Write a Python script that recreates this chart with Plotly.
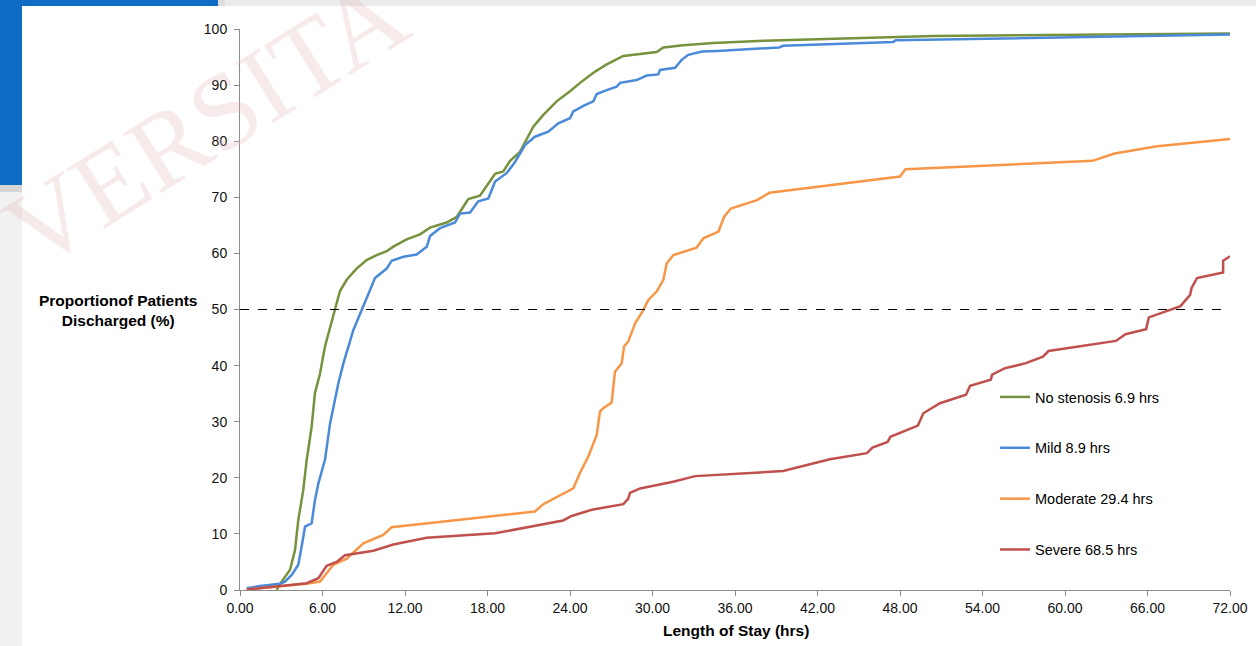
import plotly.graph_objects as go

# ---------------- data ----------------
no_sten_hrs = [2.67, 3.03, 3.64, 4.0, 4.24, 4.6, 4.85, 5.21, 5.45, 5.82, 6.18, 6.55, 6.91, 7.27,
               7.76, 8.48, 9.21, 9.94, 10.67, 11.15, 12.12, 13.09, 13.82, 15.03, 15.76, 16.6,
               17.45, 18.06, 18.55, 19.15, 19.64, 20.36, 20.97, 21.33, 22.06, 23.03, 24.0, 24.73,
               25.7, 26.67, 27.88, 30.3, 30.79, 32.24, 34.4, 38.1, 50.4, 72.0]
no_sten_pct = [0.0, 1.5, 3.6, 7.1, 12.5, 17.8, 23.2, 29.1, 35.1, 38.6, 43.4, 46.9, 49.9, 53.3,
               55.3, 57.3, 58.8, 59.7, 60.4, 61.2, 62.5, 63.4, 64.6, 65.5, 66.5, 69.7,
               70.3, 72.5, 74.2, 74.6, 76.5, 78.1, 80.8, 82.6, 84.7, 87.1, 88.9, 90.4,
               92.2, 93.7, 95.2, 95.9, 96.7, 97.1, 97.5, 97.9, 98.75, 99.2]

mild_hrs = [0.49, 1.45, 2.9, 3.27, 3.76, 4.24, 4.48, 4.73, 5.21, 5.45, 5.7, 6.18, 6.55, 6.91,
            7.15, 7.52, 7.88, 8.24, 8.85, 9.21, 9.82, 10.67, 11.03, 11.88, 12.85, 13.58, 13.82,
            14.55, 15.64, 16.0, 16.73, 17.33, 18.06, 18.55, 19.39, 20.0, 20.73, 21.45, 22.42,
            23.15, 24.0, 24.24, 24.97, 25.7, 25.94, 26.67, 27.39, 27.64, 28.85, 29.58, 30.42,
            30.55, 31.64, 32.12, 32.6, 33.6, 34.7, 39.2, 39.5, 47.5, 47.7, 72.0]
mild_pct = [0.3, 0.7, 1.1, 1.5, 2.7, 4.5, 7.7, 11.3, 11.9, 16.0, 19.0, 23.2, 29.7, 33.9,
            36.8, 40.4, 43.4, 46.3, 49.9, 52.0, 55.6, 57.3, 58.7, 59.4, 59.8, 61.2, 63.1,
            64.5, 65.5, 67.1, 67.3, 69.3, 69.8, 72.8, 74.3, 76.3, 79.3, 80.8, 81.7,
            83.2, 84.1, 85.3, 86.3, 87.1, 88.4, 89.1, 89.7, 90.4, 90.9, 91.7, 91.9,
            92.7, 93.1, 94.5, 95.4, 96.0, 96.1, 96.7, 97.0, 97.7, 98.0, 99.0]

moderate_hrs = [0.49, 4.85, 5.82, 6.79, 7.76, 8.97, 10.42, 11.03, 21.45, 22.06, 24.24, 24.73,
                25.33, 25.94, 26.18, 26.42, 27.03, 27.27, 27.76, 27.93, 28.24, 28.73, 29.33,
                29.7, 30.3, 30.79, 31.03, 31.52, 33.2, 33.7, 34.8, 35.2, 35.7, 37.6, 38.5,
                48.0, 48.4, 62.0, 63.6, 66.7, 72.0]
moderate_pct = [0.1, 1.1, 1.5, 4.5, 5.6, 8.3, 9.8, 11.2, 14.0, 15.3, 18.1, 20.9,
                23.8, 27.6, 31.8, 32.4, 33.4, 38.9, 40.4, 43.4, 44.3, 47.5, 49.9,
                51.7, 53.2, 55.3, 58.2, 59.7, 61.0, 62.7, 63.9, 66.5, 68.0, 69.5, 70.8,
                73.7, 75.0, 76.5, 77.8, 79.1, 80.4]

severe_hrs = [0.49, 4.85, 5.7, 6.3, 7.03, 7.64, 9.7, 11.15, 13.58, 18.55, 23.5, 24.12, 25.58,
              27.88, 28.24, 28.36, 29.1, 31.5, 33.1, 39.5, 42.9, 45.6, 46.0, 47.1, 47.3, 49.3,
              49.7, 50.9, 52.8, 53.1, 54.6, 54.7, 55.6, 57.1, 58.4, 58.8, 63.7, 64.4, 65.9,
              66.1, 68.4, 69.1, 69.2, 69.6, 71.5, 71.5, 72.0]
severe_pct = [0.1, 1.2, 2.1, 4.3, 5.0, 6.2, 7.0, 8.1, 9.3, 10.1, 12.4, 13.2, 14.3,
              15.3, 16.3, 17.3, 18.1, 19.3, 20.3, 21.2, 23.3, 24.4, 25.4, 26.4, 27.3, 29.3,
              31.5, 33.3, 34.8, 36.4, 37.5, 38.4, 39.5, 40.4, 41.6, 42.6, 44.4, 45.6, 46.5,
              48.6, 50.6, 52.6, 53.8, 55.6, 56.6, 58.7, 59.5]

series_names = ["No stenosis 6.9 hrs", "Mild 8.9 hrs", "Moderate 29.4 hrs", "Severe 68.5 hrs"]
series_colors = ["#76923c", "#4a8ad8", "#f79646", "#c0504d"]
series_x = [no_sten_hrs, mild_hrs, moderate_hrs, severe_hrs]
series_y = [no_sten_pct, mild_pct, moderate_pct, severe_pct]

x_ticks = [0, 6, 12, 18, 24, 30, 36, 42, 48, 54, 60, 66, 72]
y_ticks = [0, 10, 20, 30, 40, 50, 60, 70, 80, 90, 100]
median_line = 50

# ---------------- figure ----------------
W, H = 1256, 646
L, R, T, B = 240, 26, 29, 56
PW, PH = W - L - R, H - T - B


def fx(px):
    return (px - L) / PW


def fy(py):
    return (H - B - py) / PH


fig = go.Figure()
for name, color, xs, ys in zip(series_names, series_colors, series_x, series_y):
    fig.add_trace(go.Scatter(x=xs, y=ys, mode="lines", name=name, legendgroup=name,
                             line=dict(color=color, width=2.5)))

font_family = "Liberation Sans, Arial, sans-serif"

shapes = [
    # page decoration around the chart
    dict(type="rect", xref="paper", yref="paper", x0=fx(0), x1=fx(W), y0=fy(0), y1=fy(6),
         fillcolor="#ebebeb", line_width=0, layer="below"),
    dict(type="rect", xref="paper", yref="paper", x0=fx(218), x1=fx(225), y0=fy(0), y1=fy(6),
         fillcolor="#dcdcdc", line_width=0, layer="below"),
    dict(type="rect", xref="paper", yref="paper", x0=fx(0), x1=fx(218), y0=fy(0), y1=fy(6),
         fillcolor="#0f6bc4", line_width=0, layer="below"),
    dict(type="rect", xref="paper", yref="paper", x0=fx(0), x1=fx(22), y0=fy(0), y1=fy(185),
         fillcolor="#0f6bc4", line_width=0, layer="below"),
    dict(type="rect", xref="paper", yref="paper", x0=fx(0), x1=fx(22), y0=fy(185), y1=fy(H),
         fillcolor="#f1f1f1", line_width=0, layer="below"),
    dict(type="rect", xref="paper", yref="paper", x0=fx(0), x1=fx(22), y0=fy(185), y1=fy(192),
         fillcolor="#d6d6d6", line_width=0, layer="below"),
    # median (50%) reference line
    dict(type="line", xref="paper", yref="y", x0=0, x1=1, y0=median_line, y1=median_line,
         line=dict(color="black", width=1.2, dash="dash")),
]

annotations = [
    dict(text="VERSITA", xref="paper", yref="paper", x=fx(205), y=fy(122),
         xanchor="center", yanchor="middle",
         showarrow=False, textangle=-32,
         font=dict(family="Liberation Serif, Times New Roman, serif", size=108,
                   color="rgba(225,180,180,0.28)")),
    dict(text="<b>Proportionof Patients<br>Discharged (%)</b>", xref="paper", yref="paper",
         x=fx(118), y=fy(310), xanchor="center", yanchor="middle",
         showarrow=False, align="center",
         font=dict(family=font_family, size=15.5, color="black")),
    dict(text="<b>Length of Stay (hrs)</b>", xref="paper", yref="paper",
         x=fx(736), y=fy(630), xanchor="center", yanchor="middle", showarrow=False,
         font=dict(family=font_family, size=15.5, color="black")),
]

fig.update_layout(
    width=W, height=H,
    margin=dict(l=L, r=R, t=T, b=B, pad=0, autoexpand=False),
    paper_bgcolor="white", plot_bgcolor="white",
    font=dict(family=font_family, size=14, color="#111111"),
    shapes=shapes, annotations=annotations,
    showlegend=True,
    legend=dict(x=fx(995), y=fy(381), xanchor="left", yanchor="top",
                tracegroupgap=29, bgcolor="rgba(0,0,0,0)",
                font=dict(family=font_family, size=14.5, color="black")),
    xaxis=dict(range=[0, 72], tickvals=x_ticks, ticktext=[f"{v:.2f}" for v in x_ticks],
               showgrid=False, zeroline=False, showline=True, linecolor="#8c8c8c",
               linewidth=1, ticks="outside", ticklen=5, tickcolor="#8c8c8c",
               tickfont=dict(size=14, color="#111111")),
    yaxis=dict(range=[0, 100], tickvals=y_ticks, showgrid=False, zeroline=False,
               showline=True, linecolor="#8c8c8c", linewidth=1, ticks="outside", ticklen=5,
               tickcolor="#8c8c8c", tickfont=dict(size=14, color="#111111"),
               ticklabelstandoff=4),
)

fig.write_html("out.html")
